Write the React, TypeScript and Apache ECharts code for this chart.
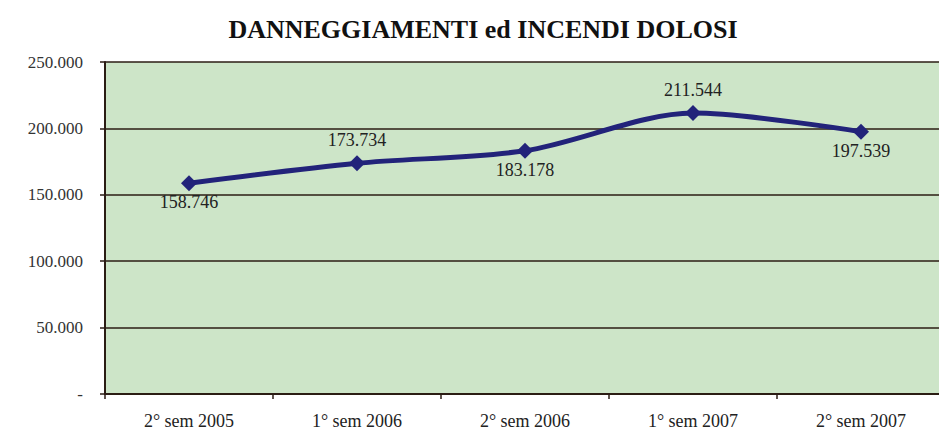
import React, { useEffect, useRef } from "react";
import * as echarts from "echarts";

const titleText = "DANNEGGIAMENTI ed INCENDI DOLOSI";
const categories = ["2° sem 2005", "1° sem 2006", "2° sem 2006", "1° sem 2007", "2° sem 2007"];
const values = [158746, 173734, 183178, 211544, 197539];
const labelPositions = ["bottom", "top", "bottom", "top", "bottom"];
const yTicks = [0, 50000, 100000, 150000, 200000, 250000];
const yTickLabels = ["-", "50.000", "100.000", "150.000", "200.000", "250.000"];

const fmt = (v: number) => {
  const s = Math.round(v).toString();
  return s.replace(/\B(?=(\d{3})+(?!\d))/g, ".");
};

export default function App() {
  const ref = useRef<HTMLDivElement>(null);
  useEffect(() => {
    if (!ref.current) return;
    const chart = echarts.init(ref.current, undefined, { renderer: "svg" });
    const font = "Liberation Serif";
    chart.setOption({
      animation: false,
      backgroundColor: "#ffffff",
      title: {
        text: titleText,
        left: 478,
        textAlign: "center",
        top: 11,
        textStyle: { fontFamily: font, fontWeight: "bold", fontSize: 26, color: "#111" },
      },
      grid: {
        left: 105,
        width: 840,
        top: 62,
        height: 332,
        outerBoundsMode: "none",
        containLabel: false,
        show: true,
        backgroundColor: "#cde5c8",
        borderWidth: 0,
      },
      xAxis: {
        type: "category",
        data: categories,
        boundaryGap: true,
        axisLine: { lineStyle: { color: "#2b1d14", width: 2 } },
        axisTick: { show: true, length: 5, lineStyle: { color: "#2b1d14", width: 1.5 } },
        axisLabel: { fontFamily: font, fontSize: 18, color: "#222", margin: 18 },
      },
      yAxis: {
        type: "value",
        min: 0,
        max: 250000,
        interval: 50000,
        axisLine: { show: true, lineStyle: { color: "#2b1d14", width: 2 } },
        axisTick: { show: true, length: 5, lineStyle: { color: "#2b1d14", width: 1.5 } },
        splitLine: { lineStyle: { color: "#2b1d14", width: 1.5 } },
        axisLabel: {
          fontFamily: font,
          fontSize: 17,
          color: "#333",
          margin: 22,
          formatter: (v: number) => {
            const i = yTicks.indexOf(v);
            return i >= 0 ? yTickLabels[i] : fmt(v);
          },
        },
      },
      series: [
        {
          type: "line",
          data: values.map((v, i) => ({
            value: v,
            label: { position: labelPositions[i], distance: labelPositions[i] === "top" ? 6 : 2 },
          })),
          smooth: 0.3,
          symbol: "diamond",
          symbolSize: 16,
          lineStyle: { color: "#22237a", width: 5 },
          itemStyle: { color: "#22237a" },
          label: {
            show: true,
            fontFamily: font,
            fontSize: 18,
            color: "#222",
            formatter: (p: any) => fmt(p.value),
          },
        },
      ],
    });
    return () => chart.dispose();
  }, []);
  return (
    <div
      ref={ref}
      style={{ position: "fixed", left: 0, top: 0, width: 939, height: 432 }}
    />
  );
}
